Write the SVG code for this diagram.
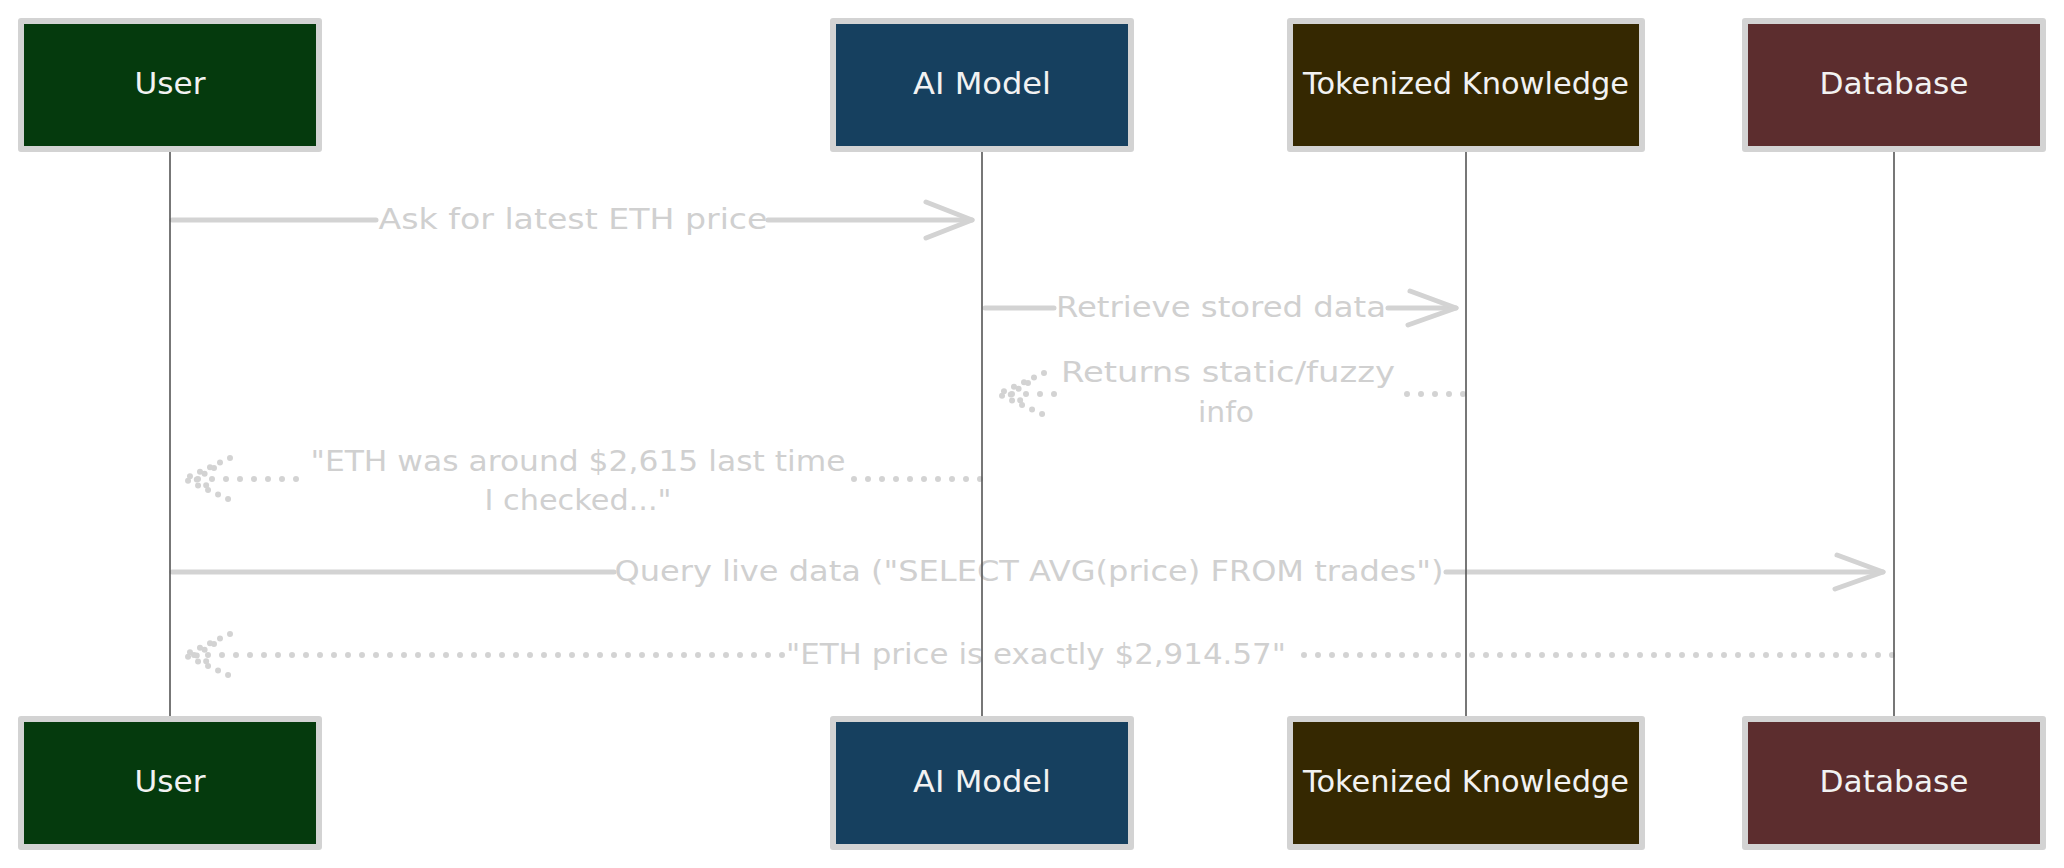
<svg xmlns="http://www.w3.org/2000/svg" width="2064" height="868" viewBox="0 0 2064 868">
<defs>
<style>
.box{stroke:#d3d3d3;stroke-width:6;stroke-linejoin:round}
.nl{font-family:"DejaVu Sans","Liberation Sans",sans-serif;font-size:30px;fill:#f2f2f2;text-anchor:middle}
.life{stroke:#555;stroke-width:1.6;fill:none}
.msg{stroke:#d3d3d3;stroke-width:5;fill:none;stroke-linecap:round;stroke-linejoin:round}
.dot{stroke:#d3d3d3;stroke-width:6;fill:none;stroke-linecap:round;stroke-dasharray:0 14}
.dh{stroke:#d3d3d3;stroke-width:6;fill:none;stroke-linecap:round;stroke-dasharray:0 11}
.ml{font-family:"DejaVu Sans","Liberation Sans",sans-serif;font-size:29px;fill:#d0d0d0;text-anchor:middle}
</style>
</defs>
<rect width="2064" height="868" fill="#ffffff"/>
<g id="connectors">
<!-- message 1 -->
<path class="msg" d="M172 220 H376 M768 220 H972"/>
<path class="msg" d="M926 202 L972 220 L926 238"/>
<text class="ml" x="573" y="229" textLength="389" lengthAdjust="spacingAndGlyphs">Ask for latest ETH price</text>
<!-- message 2 -->
<path class="msg" d="M985 308 H1054 M1388 308 H1456"/>
<path class="msg" d="M1410 291 L1456 308 L1408 325"/>
<text class="ml" x="1221" y="317" textLength="330" lengthAdjust="spacingAndGlyphs">Retrieve stored data</text>
<!-- message 3 -->
<path class="dot" d="M1463 394 H1402 M1054 394 H1000"/>
<path class="dh" d="M1044 373 L998 394 L1044 415"/>
<path class="dh" d="M1028 383 L1010 394 L1028 405"/>
<text class="ml" x="1228" y="382" textLength="334" lengthAdjust="spacingAndGlyphs">Returns static/fuzzy</text>
<text class="ml" x="1226" y="422" textLength="56" lengthAdjust="spacingAndGlyphs">info</text>
<!-- message 4 -->
<path class="dot" d="M980 479 H848 M296 479 H186"/>
<path class="dh" d="M230 458 L184 479 L230 500"/>
<path class="dh" d="M214 468 L196 479 L214 490"/>
<text class="ml" x="578" y="471" textLength="535" lengthAdjust="spacingAndGlyphs">"ETH was around $2,615 last time</text>
<text class="ml" x="578" y="510" textLength="187" lengthAdjust="spacingAndGlyphs">I checked..."</text>
<!-- message 5 -->
<path class="msg" d="M172 572 H614 M1446 572 H1883"/>
<path class="msg" d="M1837 555 L1883 572 L1835 589"/>
<text class="ml" x="1029" y="581" textLength="829" lengthAdjust="spacingAndGlyphs">Query live data ("SELECT AVG(price) FROM trades")</text>
<!-- message 6 -->
<path class="dot" d="M1892 655 H1290 M782 655 H186"/>
<path class="dh" d="M230 634 L184 655 L230 676"/>
<path class="dh" d="M214 644 L196 655 L214 666"/>
<text class="ml" x="1036" y="664" textLength="500" lengthAdjust="spacingAndGlyphs">"ETH price is exactly $2,914.57"</text>
<!-- lifelines -->
<line class="life" x1="170" y1="150" x2="170" y2="718"/>
<line class="life" x1="982" y1="150" x2="982" y2="718"/>
<line class="life" x1="1466" y1="150" x2="1466" y2="718"/>
<line class="life" x1="1894" y1="150" x2="1894" y2="718"/>
</g>
<g id="user-top"><rect class="box" x="21" y="21" width="298" height="128" fill="#053a0d"/><text class="nl" x="170" y="94" textLength="71" lengthAdjust="spacingAndGlyphs">User</text></g>
<g id="ai-top"><rect class="box" x="833" y="21" width="298" height="128" fill="#16405f"/><text class="nl" x="982" y="94" textLength="138" lengthAdjust="spacingAndGlyphs">AI Model</text></g>
<g id="tk-top"><rect class="box" x="1290" y="21" width="352" height="128" fill="#352801"/><text class="nl" x="1466" y="94" textLength="326" lengthAdjust="spacingAndGlyphs">Tokenized Knowledge</text></g>
<g id="db-top"><rect class="box" x="1745" y="21" width="298" height="128" fill="#5c2d2e"/><text class="nl" x="1894" y="94" textLength="149" lengthAdjust="spacingAndGlyphs">Database</text></g>
<g id="user-bottom"><rect class="box" x="21" y="719" width="298" height="128" fill="#053a0d"/><text class="nl" x="170" y="792" textLength="71" lengthAdjust="spacingAndGlyphs">User</text></g>
<g id="ai-bottom"><rect class="box" x="833" y="719" width="298" height="128" fill="#16405f"/><text class="nl" x="982" y="792" textLength="138" lengthAdjust="spacingAndGlyphs">AI Model</text></g>
<g id="tk-bottom"><rect class="box" x="1290" y="719" width="352" height="128" fill="#352801"/><text class="nl" x="1466" y="792" textLength="326" lengthAdjust="spacingAndGlyphs">Tokenized Knowledge</text></g>
<g id="db-bottom"><rect class="box" x="1745" y="719" width="298" height="128" fill="#5c2d2e"/><text class="nl" x="1894" y="792" textLength="149" lengthAdjust="spacingAndGlyphs">Database</text></g>
</svg>
